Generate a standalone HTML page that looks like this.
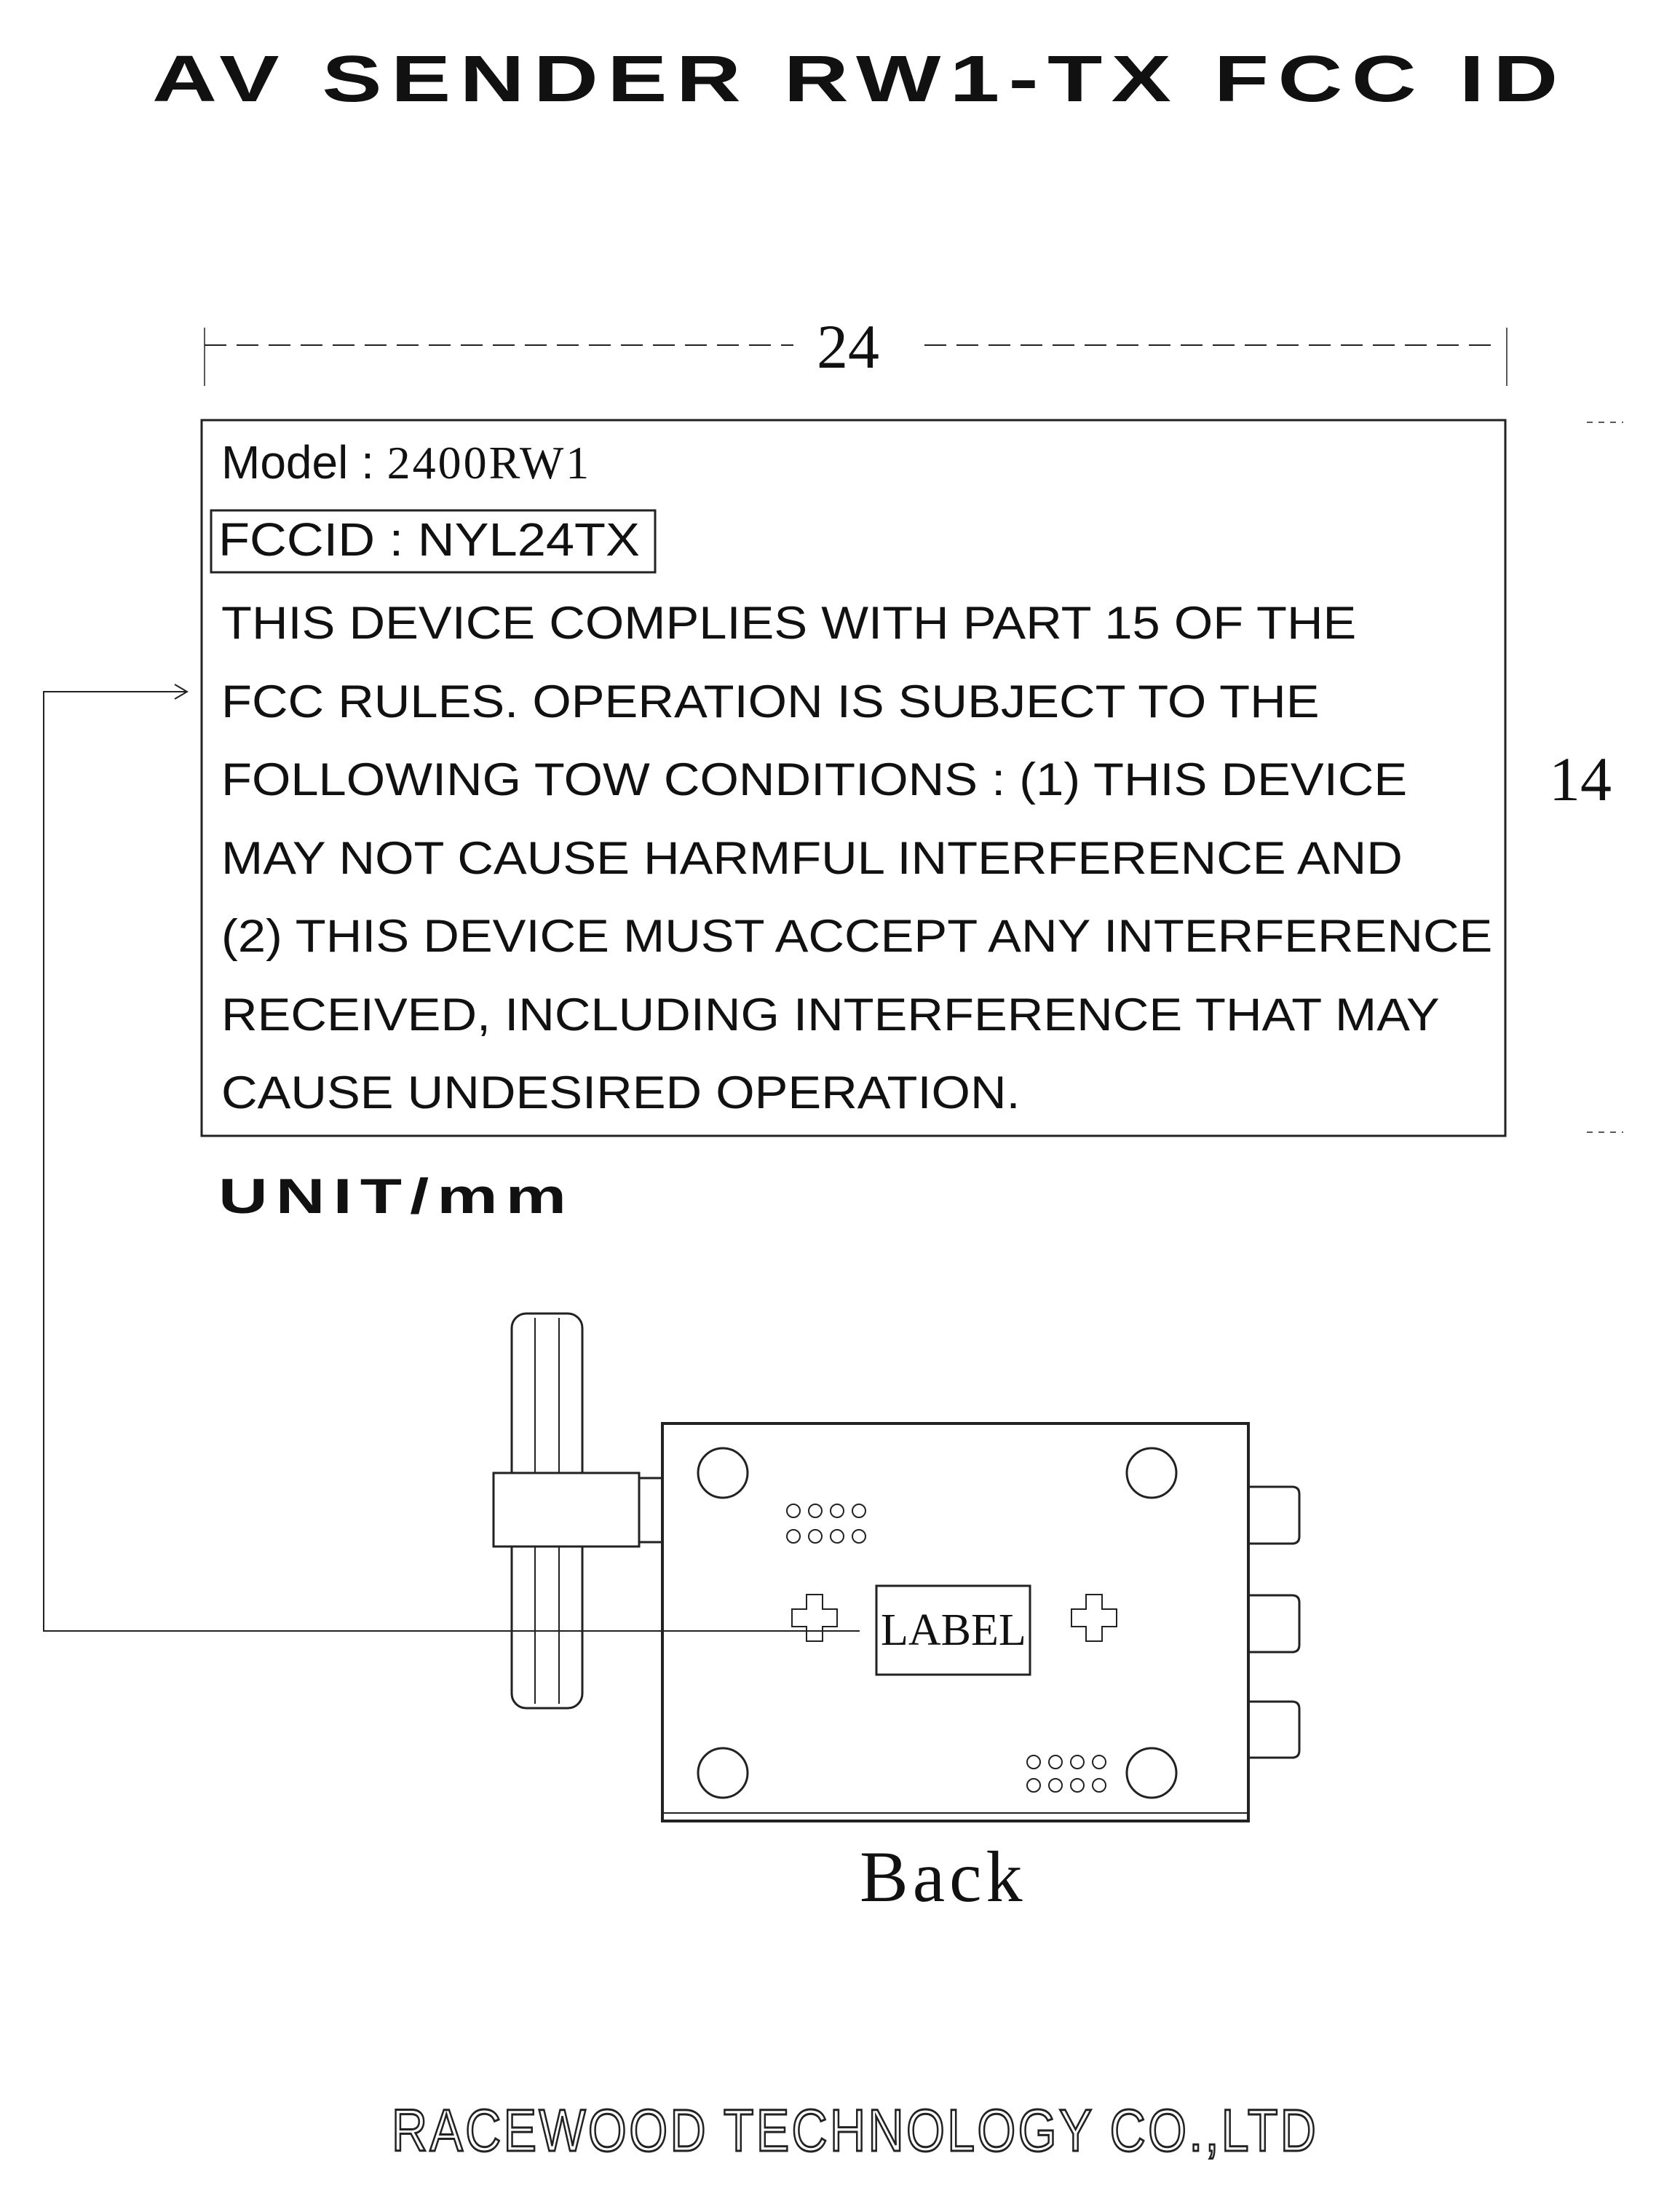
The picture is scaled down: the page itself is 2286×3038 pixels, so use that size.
<!DOCTYPE html>
<html><head><meta charset="utf-8"><style>
body{margin:0;width:2286px;height:3038px;background:#fff;overflow:hidden;position:relative;font-family:"Liberation Sans",sans-serif;}
.a{position:absolute;white-space:nowrap;color:#111}
</style></head><body>
<svg width="2286" height="3038" style="position:absolute;left:0;top:0">
<g stroke="#222" fill="none" stroke-width="3">
<line x1="281" y1="474" x2="1090" y2="474" stroke-dasharray="30,14" stroke-width="2"/>
<line x1="1270" y1="474" x2="2060" y2="474" stroke-dasharray="30,14" stroke-width="2"/>
<line x1="281" y1="450" x2="281" y2="530" stroke-width="1.5"/>
<line x1="2070" y1="450" x2="2070" y2="530" stroke-width="1.5"/>
<rect x="277" y="577" width="1791" height="983" stroke-width="3"/>
<rect x="290" y="701" width="610" height="85" stroke-width="3"/>
<line x1="2180" y1="580" x2="2230" y2="580" stroke-width="1.5" stroke-dasharray="8,8"/>
<line x1="2180" y1="1555" x2="2230" y2="1555" stroke-width="1.5" stroke-dasharray="8,8"/>
<polyline points="257,950 60,950 60,2240 1181,2240" stroke-width="2"/>
<polyline points="240,940 257,950 240,960" stroke-width="2"/>
<rect x="910" y="1955" width="805" height="546" stroke-width="4"/>
<line x1="910" y1="2490" x2="1715" y2="2490" stroke-width="2"/>
<circle cx="993" cy="2023" r="34"/><circle cx="1582" cy="2023" r="34"/>
<circle cx="993" cy="2435" r="34"/><circle cx="1582" cy="2435" r="34"/>
<g stroke-width="2">
<circle cx="1090" cy="2075" r="9"/><circle cx="1120" cy="2075" r="9"/><circle cx="1150" cy="2075" r="9"/><circle cx="1180" cy="2075" r="9"/>
<circle cx="1090" cy="2110" r="9"/><circle cx="1120" cy="2110" r="9"/><circle cx="1150" cy="2110" r="9"/><circle cx="1180" cy="2110" r="9"/>
<circle cx="1420" cy="2420" r="9"/><circle cx="1450" cy="2420" r="9"/><circle cx="1480" cy="2420" r="9"/><circle cx="1510" cy="2420" r="9"/>
<circle cx="1420" cy="2452" r="9"/><circle cx="1450" cy="2452" r="9"/><circle cx="1480" cy="2452" r="9"/><circle cx="1510" cy="2452" r="9"/>
</g>
<rect x="1204" y="2178" width="211" height="122" stroke-width="3"/>
<path d="M1088,2210 h20 v-20 h22 v20 h20 v24 h-20 v20 h-22 v-20 h-20z" stroke-width="2"/>
<path d="M1472,2210 h20 v-20 h22 v20 h20 v24 h-20 v20 h-22 v-20 h-20z" stroke-width="2"/>
<rect x="703" y="1804" width="97" height="542" rx="20" stroke-width="3"/>
<line x1="735" y1="1810" x2="735" y2="2340" stroke-width="2"/>
<line x1="768" y1="1810" x2="768" y2="2340" stroke-width="2"/>
<rect x="678" y="2023" width="200" height="101" fill="#fff" stroke-width="3"/>
<rect x="878" y="2030" width="32" height="88" stroke-width="3"/>
<path d="M1715,2042 h60 q10,0 10,10 v58 q0,10 -10,10 h-60" stroke-width="3"/>
<path d="M1715,2191 h60 q10,0 10,10 v58 q0,10 -10,10 h-60" stroke-width="3"/>
<path d="M1715,2337 h60 q10,0 10,10 v57 q0,10 -10,10 h-60" stroke-width="3"/>
</g>
</svg>
<div class="a" style="left:209px;top:58px;font-size:90px;font-weight:900;letter-spacing:9px;transform:scaleX(1.37);transform-origin:left">AV SENDER RW1-TX FCC ID</div>
<div class="a" style="left:1122px;top:426px;font-size:86px;font-family:'Liberation Serif',serif">24</div>
<div class="a" style="left:2128px;top:1020px;font-size:86px;font-family:'Liberation Serif',serif">14</div>
<div class="a" style="left:304px;top:598px;font-size:64px">Model : <span style="font-family:'Liberation Serif',serif;letter-spacing:3px">2400RW1</span></div>
<div class="a" style="left:300px;top:704px;font-size:64px;transform:scaleX(1.1);transform-origin:left">FCCID : NYL24TX</div>
<div class="a" style="left:304px;top:803px;font-size:63px;line-height:107.5px;transform:scaleX(1.09);transform-origin:left">THIS DEVICE COMPLIES WITH PART 15 OF THE<br>FCC RULES. OPERATION IS SUBJECT TO THE<br>FOLLOWING TOW CONDITIONS : (1) THIS DEVICE<br>MAY NOT CAUSE HARMFUL INTERFERENCE AND<br>(2) THIS DEVICE MUST ACCEPT ANY INTERFERENCE<br>RECEIVED, INCLUDING INTERFERENCE THAT MAY<br>CAUSE UNDESIRED OPERATION.</div>
<div class="a" style="left:300px;top:1604px;font-size:68px;font-weight:900;letter-spacing:8px;transform:scaleX(1.38);transform-origin:left">UNIT/mm</div>
<div class="a" style="left:1210px;top:2204px;font-size:62px;font-family:'Liberation Serif',serif">LABEL</div>
<div class="a" style="left:1181px;top:2520px;font-size:100px;font-family:'Liberation Serif',serif;letter-spacing:6px">Back</div>
<div class="a" style="left:538px;top:2880px;font-size:82px;letter-spacing:4px;color:#fff;-webkit-text-stroke:3px #222;transform:scaleX(0.83);transform-origin:left">RACEWOOD TECHNOLOGY CO.,LTD</div>
</body></html>
